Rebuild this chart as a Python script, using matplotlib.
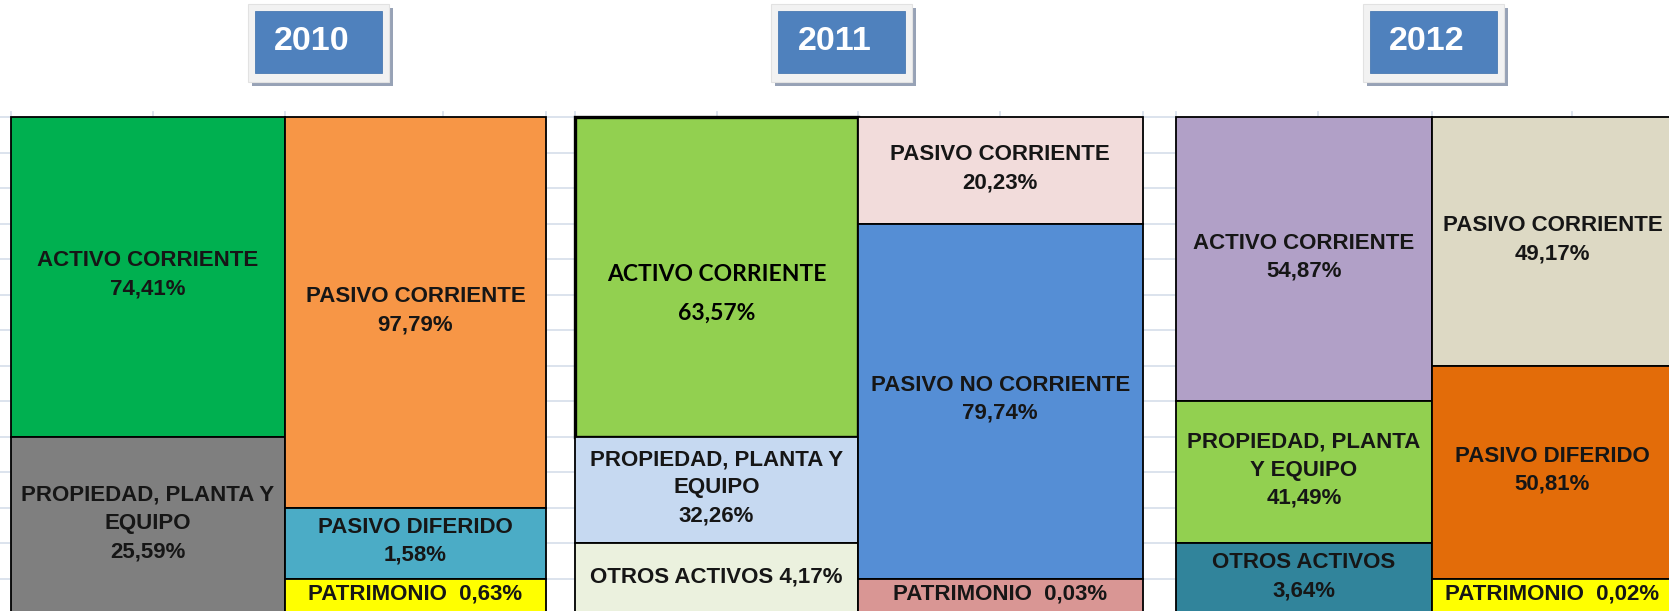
import numpy as np
import matplotlib
matplotlib.use('Agg')
import matplotlib.pyplot as plt
from matplotlib.patches import Rectangle

# ---------------------------------------------------------------
# Estructura del balance por año: activo a la izquierda, pasivo a la derecha
anios = ['2010', '2011', '2012']

activo_2010 = ['ACTIVO CORRIENTE\n{}', 'PROPIEDAD, PLANTA Y\nEQUIPO\n{}']
activo_2010_pct = [74.41, 25.59]
pasivo_2010 = ['PASIVO CORRIENTE\n{}', 'PASIVO DIFERIDO\n{}', 'PATRIMONIO  {}']
pasivo_2010_pct = [97.79, 1.58, 0.63]

activo_2011 = ['ACTIVO CORRIENTE\n{}', 'PROPIEDAD, PLANTA Y\nEQUIPO\n{}', 'OTROS ACTIVOS {}']
activo_2011_pct = [63.57, 32.26, 4.17]
pasivo_2011 = ['PASIVO CORRIENTE\n{}', 'PASIVO NO CORRIENTE\n{}', 'PATRIMONIO  {}']
pasivo_2011_pct = [20.23, 79.74, 0.03]

activo_2012 = ['ACTIVO CORRIENTE\n{}', 'PROPIEDAD, PLANTA\nY EQUIPO\n{}', 'OTROS ACTIVOS\n{}']
activo_2012_pct = [54.87, 41.49, 3.64]
pasivo_2012 = ['PASIVO CORRIENTE\n{}', 'PASIVO DIFERIDO\n{}', 'PATRIMONIO  {}']
pasivo_2012_pct = [49.17, 50.81, 0.02]

# filas de la hoja que ocupa cada bloque
filas_activo_2010 = [9, 5]
filas_pasivo_2010 = [11, 2, 1]
filas_activo_2011 = [9, 3, 2]
filas_pasivo_2011 = [3, 10, 1]
filas_activo_2012 = [8, 4, 2]
filas_pasivo_2012 = [7, 6, 1]

colores_activo_2010 = ['#00b050', '#7f7f7f']
colores_pasivo_2010 = ['#f79646', '#4bacc6', '#ffff00']
colores_activo_2011 = ['#92d050', '#c6d9f1', '#ebf1de']
colores_pasivo_2011 = ['#f2dcdb', '#558ed5', '#d99694']
colores_activo_2012 = ['#b1a0c7', '#92d050', '#31849b']
colores_pasivo_2012 = ['#ddd9c4', '#e36c09', '#ffff00']

activos = [activo_2010, activo_2011, activo_2012]
activos_pct = [activo_2010_pct, activo_2011_pct, activo_2012_pct]
pasivos = [pasivo_2010, pasivo_2011, pasivo_2012]
pasivos_pct = [pasivo_2010_pct, pasivo_2011_pct, pasivo_2012_pct]
filas_activo = [filas_activo_2010, filas_activo_2011, filas_activo_2012]
filas_pasivo = [filas_pasivo_2010, filas_pasivo_2011, filas_pasivo_2012]
colores_activo = [colores_activo_2010, colores_activo_2011, colores_activo_2012]
colores_pasivo = [colores_pasivo_2010, colores_pasivo_2011, colores_pasivo_2012]

# ---------------------------------------------------------------
# geometria (pixeles de la imagen)
W, H = 1669, 611
TOP = 117
ALTO_FILA = 35.5
bordes = [(10.6, 285, 546), (575, 858, 1142.5), (1176, 1432, 1673)]
centros_titulo = [318.5, 841.5, 1433.5]
cols_hoja = [10.6, 153, 285, 443, 546, 575, 717, 858, 1000, 1142.5, 1176, 1318, 1432, 1572]
GRID = '#d9e0ec'
TXT = '#161616'


def pct(v):
    return f'{v:.2f}'.replace('.', ',') + '%'


fig = plt.figure(figsize=(W / 100, H / 100), dpi=100)

# fondo: cuadricula de la hoja de calculo y titulos
bg = fig.add_axes([0, 0, 1, 1], zorder=0)
bg.set_xlim(0, W)
bg.set_ylim(H, 0)
bg.axis('off')
for k in range(15):
    bg.axhline(TOP + k * ALTO_FILA, color=GRID, lw=1.3)
for c in cols_hoja:
    bg.plot([c, c], [112, H], color=GRID, lw=1.3)

for anio, cx in zip(anios, centros_titulo):
    bg.add_patch(Rectangle((cx - 70.5 + 4, 8), 141, 78, color='#97a2b6', lw=0))
    bg.add_patch(Rectangle((cx - 70.5, 4), 141, 78, facecolor='#f2f2f2',
                           edgecolor='#e2e2e2', lw=0.8))
    bg.add_patch(Rectangle((cx - 63.5, 11), 127, 62, facecolor='#4f81bd',
                           edgecolor='#4a7ab3', lw=0.6))
    bg.text(cx - 7, 42, anio, ha='center', va='center', color='white',
            fontsize=24.5, fontweight='bold', family='Liberation Sans')

# bloques de cada año
for i, anio in enumerate(anios):
    izq, med, der = bordes[i]
    ax = fig.add_axes([izq / W, 0, (der - izq) / W, (H - TOP) / H], zorder=2)
    ax.set_xlim(0, der - izq)
    ax.set_ylim((H - TOP) / ALTO_FILA, 0)
    ax.axis('off')

    columnas = [
        (0, med - izq, activos[i], activos_pct[i], filas_activo[i], colores_activo[i]),
        (med - izq, der - med, pasivos[i], pasivos_pct[i], filas_pasivo[i], colores_pasivo[i]),
    ]
    for j, (x0, ancho, nombres, valores, filas, colores) in enumerate(columnas):
        base = np.concatenate([[0], np.cumsum(filas)[:-1]])
        grosor = [1.3] * len(filas)
        especial = (anio == '2011' and j == 0)
        if especial:
            grosor[0] = 2.4
        ax.bar([x0] * len(filas), filas, bottom=base, width=ancho, align='edge',
               color=colores, edgecolor='black', linewidth=grosor, clip_on=False)
        for k, (nom, val) in enumerate(zip(nombres, valores)):
            yc = base[k] + filas[k] / 2
            if especial and k == 0:
                ax.text(x0 + ancho / 2, yc + 0.48, nom.format(pct(val)),
                        ha='center', va='center', fontsize=16.5, fontweight='bold',
                        family='Lato', color='black', linespacing=2.0)
            else:
                ax.text(x0 + ancho / 2, yc - 0.05, nom.format(pct(val)),
                        ha='center', va='center', fontsize=16, fontweight='bold',
                        family='Liberation Sans', color=TXT, linespacing=1.45)

fig.savefig('out.png', dpi=100)
